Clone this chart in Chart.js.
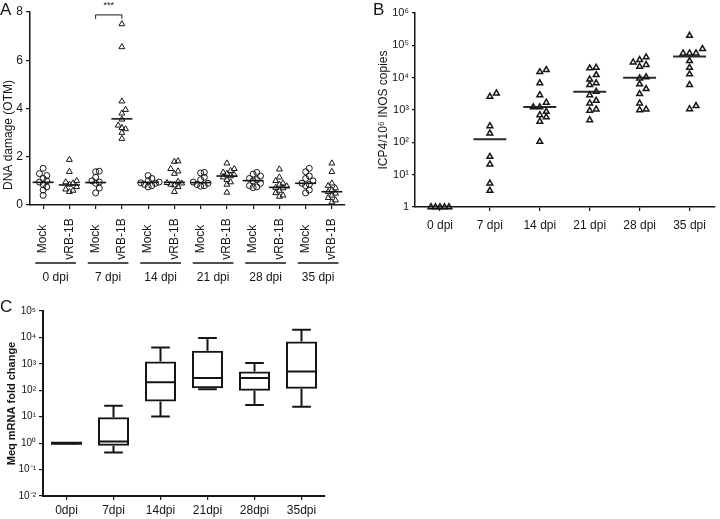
<!DOCTYPE html>
<html>
<head>
<meta charset="utf-8">
<script src="https://cdn.jsdelivr.net/npm/chart.js@4.4.1/dist/chart.umd.min.js"></script>
<style>
  body { margin: 0; background: #fff; width: 720px; height: 519px; position: relative; overflow: hidden; }
  canvas { position: absolute; }
</style>
</head>
<body>
<canvas id="chartA" width="360" height="290" style="left:0;top:0"></canvas>
<canvas id="chartB" width="360" height="290" style="left:360px;top:0"></canvas>
<canvas id="chartC" width="360" height="229" style="left:0;top:290px"></canvas>
<script>
// --- panel A: DNA damage (OTM) per bird ---
const groupsA = ['0 dpi', '7 dpi', '14 dpi', '21 dpi', '28 dpi', '35 dpi'];
const armsA = ['Mock', 'vRB-1B'];
const mock0 = [1.52, 1.30, 1.22, 1.10, 1.00, 0.95, 0.85, 0.75, 0.62, 0.40];
const vrb0 = [1.88, 1.38, 1.00, 0.95, 0.90, 0.85, 0.75, 0.65, 0.60, 0.55];
const mock7 = [1.40, 1.38, 1.15, 1.00, 0.95, 0.90, 0.70, 0.50];
const vrb7 = [7.50, 6.55, 4.30, 3.95, 3.80, 3.55, 3.30, 3.20, 3.15, 3.00, 2.75];
const mock14 = [1.22, 1.10, 1.00, 0.95, 0.92, 0.90, 0.85, 0.80, 0.75];
const vrb14 = [1.82, 1.80, 1.50, 1.40, 1.30, 0.97, 0.92, 0.90, 0.85, 0.82, 0.75, 0.55];
const mock21 = [1.35, 1.33, 1.15, 1.05, 0.95, 0.90, 0.85, 0.80, 0.78];
const vrb21 = [1.73, 1.50, 1.42, 1.35, 1.30, 1.25, 1.20, 1.15, 1.05, 0.95, 0.85, 0.52];
const mock28 = [1.35, 1.28, 1.20, 1.10, 1.05, 1.00, 0.90, 0.80, 0.75, 0.72];
const vrb28 = [1.48, 1.15, 1.00, 0.90, 0.85, 0.78, 0.72, 0.70, 0.60, 0.50, 0.40, 0.35];
const mock35 = [1.52, 1.38, 1.20, 1.10, 1.00, 0.90, 0.85, 0.80, 0.62, 0.50];
const vrb35 = [1.73, 1.38, 0.90, 0.80, 0.70, 0.62, 0.55, 0.48, 0.40, 0.30, 0.20, 0.12];
const centerA = [0.94, 0.83, 0.93, 3.57, 0.94, 0.94, 0.93, 1.20, 1.01, 0.73, 0.90, 0.55];
const sigPair = [2, 3];
const sigY = 7.88;

// --- panel B: ICP4 copies ---
const daysB = ['0 dpi', '7 dpi', '14 dpi', '21 dpi', '28 dpi', '35 dpi'];
const icp0 = [1, 1, 1, 1, 1];
const icp7 = [3300, 2600, 320, 190, 36, 21, 5.4, 3.2];
const icp14 = [17500, 15000, 6800, 2900, 1700, 1230, 1230, 890, 700, 600, 440, 105];
const icp21 = [20500, 19600, 12200, 8900, 6800, 6000, 3700, 2900, 1950, 1620, 1050, 960, 490];
const icp28 = [43000, 35600, 30000, 25000, 22000, 10400, 9600, 6300, 4500, 3150, 1620, 1050, 1000];
const icp35 = [200000, 78000, 57000, 57000, 57000, 33000, 20500, 12800, 6000, 1340, 1070];
const medianB = [null, 125, 1230, 3700, 10000, 45000];
const decadesB = [1, 10, 100, 1000, 1e4, 1e5, 1e6];

// --- panel C: Meq mRNA fold change (box plots) ---
const daysC = ['0dpi', '7dpi', '14dpi', '21dpi', '28dpi', '35dpi'];
const meqMin = [1, 0.44, 10.2, 110, 28, 24];
const meqQ1 = [1, 0.79, 38, 120, 96, 114];
const meqMed = [1, 1.15, 200, 290, 290, 515];
const meqQ3 = [1, 9.6, 1230, 3150, 515, 7000];
const meqMax = [1, 26, 4200, 9500, 1070, 19500];
const decadesC = [0.01, 0.1, 1, 10, 100, 1000, 1e4, 1e5];

const FONT = '"Liberation Sans", Arial, Helvetica, sans-serif';
const INK = '#151515';
Chart.defaults.font.family = FONT;
Chart.defaults.color = INK;
Chart.defaults.animation = false;
Chart.defaults.plugins.legend.display = false;
Chart.defaults.plugins.tooltip.enabled = false;

const sup = s => String(s).replace(/[-0-9]/g, c => '⁻⁰¹²³⁴⁵⁶⁷⁸⁹'['-0123456789'.indexOf(c)]);
const decadeLabel = v => '10' + sup(Math.round(Math.log10(v)));

// column scatter: equal-ish values get pushed into side slots
function swarm(values, key, gap) {
  const placed = [];
  return values.slice().sort((a, b) => a - b).map(v => {
    const k = key(v);
    for (const s of [0, 1, -1, 2, -2, 3, -3, 4, -4]) {
      if (!placed.some(p => p.s === s && Math.abs(p.k - k) < gap)) {
        placed.push({ s, k });
        return { v, s };
      }
    }
    return { v, s: 0 };
  });
}

const axisGrid = { drawOnChartArea: false, color: INK, tickLength: 4, lineWidth: 1.2 };
const axisBorder = { color: INK, width: 1.5 };

function vText(ctx, text, x, y) {
  ctx.save();
  ctx.translate(x, y);
  ctx.rotate(-Math.PI / 2);
  ctx.textAlign = 'center';
  ctx.textBaseline = 'middle';
  ctx.fillText(text, 0, 0);
  ctx.restore();
}

// === PANEL A ===
const seriesA = [mock0, vrb0, mock7, vrb7, mock14, vrb14, mock21, vrb21, mock28, vrb28, mock35, vrb35];
const dotsA = seriesA.map((vals, i) => ({
  type: 'scatter',
  data: swarm(vals, v => v, 0.2).map(p => ({ x: i + p.s * 0.14, y: p.v })),
  pointStyle: i % 2 ? 'triangle' : 'circle',
  radius: i % 2 ? 3.4 : 3,
  borderColor: INK,
  borderWidth: 1,
  backgroundColor: 'rgba(255,255,255,0)',
  clip: false
}));
const barsA = centerA.map((m, i) => ({
  type: 'line',
  data: [{ x: i - 0.4, y: m }, { x: i + 0.4, y: m }],
  borderColor: INK,
  borderWidth: 1.6,
  pointRadius: 0
}));

const decorA = {
  id: 'decorA',
  afterDraw(chart) {
    const { ctx, chartArea, scales: { x, y } } = chart;
    ctx.save();
    ctx.fillStyle = INK;
    ctx.strokeStyle = INK;
    ctx.font = '17px ' + FONT;
    ctx.textAlign = 'left';
    ctx.textBaseline = 'alphabetic';
    ctx.fillText('A', 0, 15);

    ctx.font = '12px ' + FONT;
    vText(ctx, 'DNA damage (OTM)', 9, 135);
    seriesA.forEach((_, i) => vText(ctx, armsA[i % 2], x.getPixelForValue(i), chartArea.bottom + 34));

    ctx.lineWidth = 1.5;
    ctx.textAlign = 'center';
    ctx.textBaseline = 'middle';
    groupsA.forEach((g, j) => {
      const x0 = x.getPixelForValue(2 * j - 0.3);
      const x1 = x.getPixelForValue(2 * j + 1.25);
      const ly = chartArea.bottom + 58;
      ctx.beginPath();
      ctx.moveTo(x0, ly);
      ctx.lineTo(x1, ly);
      ctx.stroke();
      ctx.fillText(g, (x0 + x1) / 2, ly + 15);
    });

    // significance bracket
    const bx0 = x.getPixelForValue(sigPair[0]);
    const bx1 = x.getPixelForValue(sigPair[1]);
    const by = y.getPixelForValue(sigY);
    ctx.lineWidth = 1;
    ctx.beginPath();
    ctx.moveTo(bx0, by + 4);
    ctx.lineTo(bx0, by);
    ctx.lineTo(bx1, by);
    ctx.lineTo(bx1, by + 4);
    ctx.stroke();
    ctx.font = '9px ' + FONT;
    ctx.fillText('***', (bx0 + bx1) / 2, by - 9);
    ctx.restore();
  }
};

new Chart(document.getElementById('chartA'), {
  type: 'scatter',
  data: { datasets: [...dotsA, ...barsA] },
  options: {
    responsive: false,
    layout: { padding: { top: 12, right: 15, left: 0, bottom: 0 } },
    scales: {
      x: {
        type: 'linear', min: -0.5, max: 11.5,
        afterBuildTicks: s => { s.ticks = seriesA.map((_, i) => ({ value: i })); },
        ticks: { display: false },
        grid: axisGrid, border: axisBorder,
        afterFit: s => { s.height = 85; }
      },
      y: {
        min: 0, max: 8,
        ticks: { stepSize: 2, font: { size: 12 }, padding: 3 },
        grid: axisGrid, border: axisBorder,
        afterFit: s => { s.width = 30; }
      }
    }
  },
  plugins: [decorA]
});

// === PANEL B ===
const seriesB = [icp0, icp7, icp14, icp21, icp28, icp35];
const dotsB = seriesB.map((vals, i) => ({
  type: 'scatter',
  data: swarm(vals, v => Math.log10(v), 0.17).map(p => ({ x: i + p.s * (i === 0 ? 0.09 : 0.13), y: p.v })),
  pointStyle: 'triangle',
  radius: 3.3,
  borderColor: INK,
  borderWidth: 1.5,
  backgroundColor: 'rgba(255,255,255,0)',
  clip: false
}));
const barsB = medianB.map((m, i) => ({
  type: 'line',
  data: m === null ? [] : [{ x: i - 0.33, y: m }, { x: i + 0.33, y: m }],
  borderColor: '#2a2a2a',
  borderWidth: 2,
  pointRadius: 0
}));

const letterB = {
  id: 'letterB',
  afterDraw(chart) {
    const ctx = chart.ctx;
    ctx.save();
    ctx.fillStyle = INK;
    ctx.font = '17px ' + FONT;
    ctx.fillText('B', 13, 15);
    ctx.restore();
  }
};

new Chart(document.getElementById('chartB'), {
  type: 'scatter',
  data: { datasets: [...dotsB, ...barsB] },
  options: {
    responsive: false,
    layout: { padding: { top: 13, right: 1, left: 0, bottom: 0 } },
    scales: {
      x: {
        type: 'linear', min: -0.5, max: 5.5,
        afterBuildTicks: s => { s.ticks = daysB.map((_, i) => ({ value: i })); },
        ticks: { callback: v => daysB[v], font: { size: 12 }, padding: 7, maxRotation: 0 },
        grid: axisGrid, border: axisBorder,
        afterFit: s => { s.height = 83; }
      },
      y: {
        type: 'logarithmic', min: 1, max: 1e6,
        afterBuildTicks: s => { s.ticks = decadesB.map(v => ({ value: v })); },
        ticks: { callback: v => (v === 1 ? '1' : decadeLabel(v)), font: { size: 11 }, padding: 3 },
        grid: { ...axisGrid, tickLength: 3 }, border: axisBorder,
        title: { display: true, text: 'ICP4/10⁶ INOS copies', font: { size: 12 }, padding: { top: 16, bottom: 0 } },
        afterFit: s => { s.width = 55; }
      }
    }
  },
  plugins: [letterB]
});

// === PANEL C ===
const whiskersC = {
  id: 'whiskersC',
  afterDatasetsDraw(chart) {
    const { ctx, scales: { y } } = chart;
    const boxes = chart.getDatasetMeta(0).data;
    ctx.save();
    ctx.strokeStyle = INK;
    boxes.forEach((box, i) => {
      const half = box.width / 2;
      const cap = half * 0.6;
      const yLo = y.getPixelForValue(meqMin[i]);
      const yQ1 = y.getPixelForValue(meqQ1[i]);
      const yQ3 = y.getPixelForValue(meqQ3[i]);
      const yHi = y.getPixelForValue(meqMax[i]);
      const yMed = y.getPixelForValue(meqMed[i]);
      ctx.lineWidth = 2;
      ctx.beginPath();
      ctx.moveTo(box.x, yQ3); ctx.lineTo(box.x, yHi);
      ctx.moveTo(box.x - cap, yHi); ctx.lineTo(box.x + cap, yHi);
      ctx.moveTo(box.x, yQ1); ctx.lineTo(box.x, yLo);
      ctx.moveTo(box.x - cap, yLo); ctx.lineTo(box.x + cap, yLo);
      ctx.stroke();
      ctx.lineWidth = meqQ1[i] === meqQ3[i] ? 3 : 2;
      ctx.beginPath();
      ctx.moveTo(box.x - half, yMed); ctx.lineTo(box.x + half, yMed);
      ctx.stroke();
    });
    ctx.fillStyle = INK;
    ctx.font = '17px ' + FONT;
    ctx.fillText('C', 0, 22);
    ctx.restore();
  }
};

new Chart(document.getElementById('chartC'), {
  type: 'bar',
  data: {
    labels: daysC,
    datasets: [{
      data: daysC.map((_, i) => [meqQ1[i], meqQ3[i]]),
      backgroundColor: 'rgba(0,0,0,0)',
      borderColor: INK,
      borderWidth: 2,
      borderSkipped: false,
      barPercentage: 0.66,
      categoryPercentage: 1
    }]
  },
  options: {
    responsive: false,
    layout: { padding: { top: 21, right: 35, left: 0, bottom: 0 } },
    scales: {
      x: {
        grid: { ...axisGrid, offset: false },
        border: { color: INK, width: 2 },
        ticks: { font: { size: 12 }, padding: 3, maxRotation: 0 },
        afterFit: s => { s.height = 23; }
      },
      y: {
        type: 'logarithmic', min: 0.01, max: 1e5,
        afterBuildTicks: s => { s.ticks = decadesC.map(v => ({ value: v })); },
        ticks: { callback: v => decadeLabel(v), font: { size: 10 }, padding: 3 },
        grid: axisGrid,
        border: { color: INK, width: 2 },
        title: { display: true, text: 'Meq mRNA fold change', font: { size: 11, weight: 'bold' }, padding: { top: 5, bottom: 0 } },
        afterFit: s => { s.width = 43; }
      }
    }
  },
  plugins: [whiskersC]
});
</script>
</body>
</html>
